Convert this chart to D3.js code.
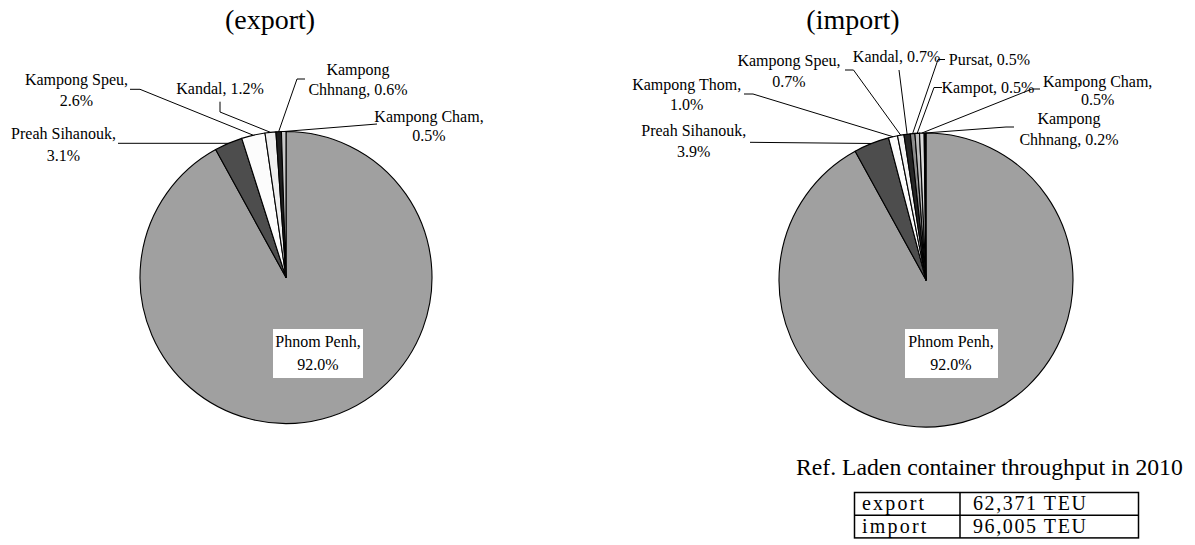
<!DOCTYPE html>
<html><head><meta charset="utf-8">
<script src="https://cdn.jsdelivr.net/npm/d3@7"></script>
<style>
body{margin:0;background:#fff}
svg{display:block}
text{font-family:"Liberation Serif","Times New Roman",serif;fill:#000}
</style>
</head><body>
<svg id="c" width="1195" height="545"></svg>
<script>
// ---------- data ----------
const exportNames  = ["Phnom Penh","Preah Sihanouk","Kampong Speu","Kandal","Kampong Chhnang","Kampong Cham"];
const exportValues = [92.0, 3.1, 2.6, 1.2, 0.6, 0.5];
const importNames  = ["Phnom Penh","Preah Sihanouk","Kampong Thom","Kampong Speu","Kandal","Pursat","Kampot","Kampong Cham","Kampong Chhnang"];
const importValues = [92.0, 3.9, 1.0, 0.7, 0.7, 0.5, 0.5, 0.5, 0.2];
const chartTitles  = ["(export)", "(import)"];
const tableTitle   = "Ref. Laden container throughput in 2010";
const tableLabels  = ["export", "import"];
const tableValues  = ["62,371 TEU", "96,005 TEU"];

// ---------- styles / layout ----------
const FONT = "'Liberation Serif','Times New Roman',serif";
const exportColors = ["#a0a0a0","#4d4d4d","#fcfcfc","#efefef","#1e1e1e","#c8c8c8"];
const importColors = ["#a0a0a0","#4d4d4d","#fcfcfc","#f4f4f4","#262626","#8c8c8c","#bdbdbd","#dcdcdc","#000000"];

const exportLayout = {
  cx: 286, cy: 277.5, r: 146, titleX: 270, titleY: 29,
  labels: {
    "Phnom Penh":      {mode:"comma",  x:318,  y:[347,370], box:[273,329,90,49]},
    "Preah Sihanouk":  {mode:"comma",  x:63.5, y:[138.5,161], leader:[[118,143.3]]},
    "Kampong Speu":    {mode:"comma",  x:76.5, y:[85,105.5], leader:[[130,89.3],[140,89.3]]},
    "Kandal":          {mode:"single", x:220,  y:[94], leader:[[220,101.7],[220,112]]},
    "Kampong Chhnang": {mode:"kampong",x:358,  y:[75,95], leader:[[305,79],[297,79]]},
    "Kampong Cham":    {mode:"comma",  x:429,  y:[121.7,141], leader:[[377,124]]}
  }
};
const importLayout = {
  cx: 926, cy: 280, r: 147, titleX: 853, titleY: 29,
  labels: {
    "Phnom Penh":      {mode:"comma",  x:951,   y:[347,370], box:[905,329,93,49]},
    "Preah Sihanouk":  {mode:"comma",  x:693.7, y:[136,157], leader:[[750,142.3]]},
    "Kampong Thom":    {mode:"comma",  x:686.7, y:[89.5,110], leader:[[744,94],[753,94]]},
    "Kampong Speu":    {mode:"comma",  x:789,   y:[65.5,86.5], leader:[[845,70],[853.5,70]]},
    "Kandal":          {mode:"single", x:896.6, y:[62], leader:[[899,70]]},
    "Pursat":          {mode:"single", x:989.5, y:[64.5], leader:[[945,59.5],[938,59.5]]},
    "Kampot":          {mode:"single", x:988,   y:[92.5], leader:[[942,87.5],[934,87.5]]},
    "Kampong Cham":    {mode:"comma",  x:1097.7,y:[87,105], leader:[[1040,89],[1032,89]]},
    "Kampong Chhnang": {mode:"kampong",x:1069,  y:[123.5,144.5], leader:[[1014,127],[1006,127]]}
  }
};

const svg = d3.select("#c");
const fmt = d3.format(".1f");

function drawPie(names, values, colors, layout, title) {
  const g = svg.append("g");
  const data = names.map((n, i) => ({name: n, value: values[i], color: colors[i]}));
  const pie = d3.pie().sort(null).value(d => d.value).startAngle(0).endAngle(2 * Math.PI);
  const arcs = pie(data);
  const arc = d3.arc().innerRadius(0).outerRadius(layout.r);
  const pg = g.append("g").attr("transform", `translate(${layout.cx},${layout.cy})`);
  pg.selectAll("path").data(arcs).enter().append("path")
    .attr("d", arc)
    .attr("fill", d => d.data.color)
    .attr("stroke", "#000").attr("stroke-width", 1.1).attr("stroke-linejoin", "round");

  g.append("text").attr("x", layout.titleX).attr("y", layout.titleY)
    .attr("text-anchor", "middle").attr("font-family", FONT).attr("font-size", 28).text(title);

  arcs.forEach(a => {
    const L = layout.labels[a.data.name];
    if (!L) return;
    const pct = fmt(a.data.value) + "%";
    let lines;
    if (L.mode === "comma") lines = [a.data.name + ",", pct];
    else if (L.mode === "single") lines = [a.data.name + ", " + pct];
    else {
      const parts = a.data.name.split(" ");
      lines = [parts[0], parts.slice(1).join(" ") + ", " + pct];
    }
    if (L.leader) {
      const mid = (a.startAngle + a.endAngle) / 2;
      const edge = [layout.cx + layout.r * Math.sin(mid), layout.cy - layout.r * Math.cos(mid)];
      const pts = L.leader.concat([edge]);
      g.append("path").attr("d", d3.line()(pts))
        .attr("fill", "none").attr("stroke", "#000").attr("stroke-width", 1);
    }
    if (L.box) {
      g.append("rect").attr("x", L.box[0]).attr("y", L.box[1])
        .attr("width", L.box[2]).attr("height", L.box[3]).attr("fill", "#fff");
    }
    lines.forEach((t, i) => {
      g.append("text").attr("x", L.x).attr("y", L.y[i])
        .attr("text-anchor", "middle").attr("font-family", FONT).attr("font-size", 16).text(t);
    });
  });
}

drawPie(exportNames, exportValues, exportColors, exportLayout, chartTitles[0]);
drawPie(importNames, importValues, importColors, importLayout, chartTitles[1]);

// ---------- reference table ----------
const tb = {x: 854.5, y: 492.5, w: 284, rowH: 22.7, colX: 960};
svg.append("text").attr("x", 796).attr("y", 475).attr("font-family", FONT).attr("font-size", 23.7).text(tableTitle);
const tg = svg.append("g");
tg.append("rect").attr("x", tb.x).attr("y", tb.y).attr("width", tb.w).attr("height", tb.rowH * tableLabels.length)
  .attr("fill", "none").attr("stroke", "#000").attr("stroke-width", 1.5);
tg.append("line").attr("x1", tb.colX).attr("x2", tb.colX).attr("y1", tb.y).attr("y2", tb.y + tb.rowH * tableLabels.length)
  .attr("stroke", "#000").attr("stroke-width", 1.5);
tableLabels.forEach((lab, i) => {
  if (i > 0) tg.append("line").attr("x1", tb.x).attr("x2", tb.x + tb.w)
    .attr("y1", tb.y + tb.rowH * i).attr("y2", tb.y + tb.rowH * i).attr("stroke", "#000").attr("stroke-width", 1.5);
  tg.append("text").attr("x", 862).attr("y", tb.y + tb.rowH * i + 17.5).attr("font-family", FONT).attr("font-size", 20).attr("letter-spacing", 2.2).text(lab);
  tg.append("text").attr("x", 973).attr("y", tb.y + tb.rowH * i + 17.5).attr("font-family", FONT).attr("font-size", 20).attr("letter-spacing", 1.6).text(tableValues[i]);
});
</script>
</body></html>
